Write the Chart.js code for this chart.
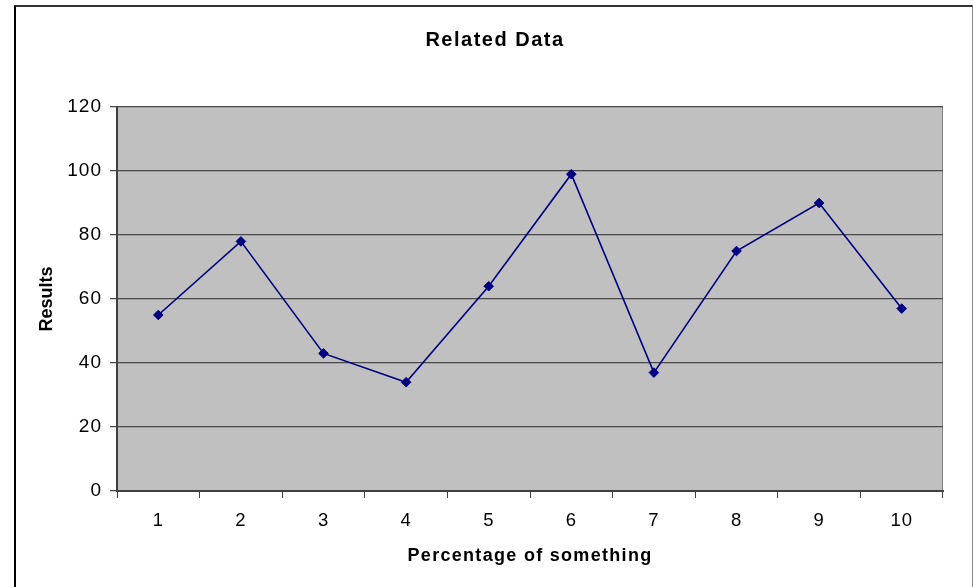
<!DOCTYPE html>
<html>
<head>
<meta charset="utf-8">
<script src="https://cdn.jsdelivr.net/npm/chart.js@4.4.1/dist/chart.umd.min.js"></script>
<style>
  html, body { margin: 0; padding: 0; background: #ffffff; overflow: hidden; }
  #wrap { position: relative; width: 973px; height: 587px; }
  #c { position: absolute; left: 0; top: 0; }
  #frame { position: absolute; left: 14px; top: 5px; width: 956px; height: 590px;
           border-left: 2px solid #000000; border-top: 2px solid #333333; border-right: 1px solid #8a8a8a;
           pointer-events: none; }
</style>
</head>
<body>
<div id="wrap">
  <canvas id="c" width="973" height="587"></canvas>
  <div id="frame"></div>
</div>
<script>
const categories = ['1', '2', '3', '4', '5', '6', '7', '8', '9', '10'];
const results = [55, 78, 43, 34, 64, 99, 37, 75, 90, 57];
const yTicks = [0, 20, 40, 60, 80, 100, 120];

const chartTitle = 'Related Data';
const xTitle = 'Percentage of something';
const yTitle = 'Results';

const FONT = 'Liberation Sans, Arial, Helvetica, sans-serif';

function withSpacing(obj, fnName, spacing) {
  if (!obj || obj['_sp_' + fnName]) return;
  const orig = obj[fnName];
  obj[fnName] = function (...args) {
    const ctx = this.ctx;
    const prev = ctx.letterSpacing;
    ctx.letterSpacing = spacing;
    const r = orig.apply(this, args);
    ctx.letterSpacing = prev;
    return r;
  };
  obj['_sp_' + fnName] = true;
}

const plotBg = {
  id: 'plotBg',
  beforeDraw(chart) {
    const a = chart.chartArea;
    const ctx = chart.ctx;
    withSpacing(chart.scales.y, 'drawLabels', '1px');
    withSpacing(chart.scales.y, 'drawTitle', '0px');
    withSpacing(chart.scales.x, 'drawLabels', '0.8px');
    withSpacing(chart.scales.x, 'drawTitle', '1.3px');
    withSpacing(chart.titleBlock, 'draw', '1.5px');
    ctx.save();
    ctx.fillStyle = '#c0c0c0';
    ctx.fillRect(a.left, a.top, a.right - a.left, a.bottom - a.top);
    ctx.strokeStyle = '#808080';
    ctx.lineWidth = 1;
    ctx.beginPath();
    ctx.moveTo(a.right - 0.5, a.top);
    ctx.lineTo(a.right - 0.5, a.bottom);
    ctx.stroke();
    ctx.restore();
  }
};

new Chart(document.getElementById('c'), {
  type: 'line',
  data: {
    labels: categories,
    datasets: [{
      label: yTitle,
      data: results,
      borderColor: '#000080',
      backgroundColor: '#000080',
      borderWidth: 1.6,
      pointStyle: 'rectRot',
      pointRadius: 4.8,
      pointBorderWidth: 1,
      pointBorderColor: '#000080',
      pointBackgroundColor: '#000080',
      tension: 0,
      fill: false
    }]
  },
  options: {
    responsive: false,
    animation: false,
    devicePixelRatio: 1,
    layout: { padding: { left: 17, right: 0, top: 0, bottom: 16 } },
    plugins: {
      legend: { display: false },
      tooltip: { enabled: false },
      title: {
        display: true,
        text: chartTitle,
        color: '#000000',
        font: { family: FONT, size: 20, weight: 'bold' },
        padding: { top: 28, bottom: 55 }
      }
    },
    scales: {
      x: {
        type: 'category',
        offset: true,
        grid: {
          display: true,
          offset: true,
          drawOnChartArea: false,
          drawTicks: true,
          tickLength: 7,
          color: '#404040',
          lineWidth: 1
        },
        border: { display: true, color: '#404040', width: 2 },
        ticks: {
          color: '#000000',
          font: { family: FONT, size: 18.5 },
          padding: 12,
          maxRotation: 0,
          autoSkip: false
        },
        title: {
          display: true,
          text: xTitle,
          color: '#000000',
          font: { family: FONT, size: 18, weight: 'bold' },
          padding: { top: 4, bottom: 4 }
        },
        afterFit(scale) { scale.height = 80; }
      },
      y: {
        position: 'left',
        min: 0,
        max: 120,
        afterBuildTicks(scale) { scale.ticks = yTicks.map(v => ({ value: v })); },
        grid: {
          display: true,
          drawOnChartArea: true,
          drawTicks: true,
          tickLength: 7,
          color: '#4a4a4a',
          lineWidth: 1.3
        },
        border: { display: true, color: '#404040', width: 2 },
        ticks: {
          color: '#000000',
          font: { family: FONT, size: 19 },
          padding: 8
        },
        title: {
          display: true,
          text: yTitle,
          color: '#000000',
          font: { family: FONT, size: 18, weight: 'bold' },
          padding: { top: 19, bottom: 4 }
        },
        afterFit(scale) { scale.width = 100; }
      },
      yRight: {
        position: 'right',
        display: true,
        min: 0,
        max: 120,
        grid: { display: false, drawTicks: false },
        border: { display: false },
        ticks: { display: false },
        afterFit(scale) { scale.width = 30; }
      }
    }
  },
  plugins: [plotBg]
});
</script>
</body>
</html>
